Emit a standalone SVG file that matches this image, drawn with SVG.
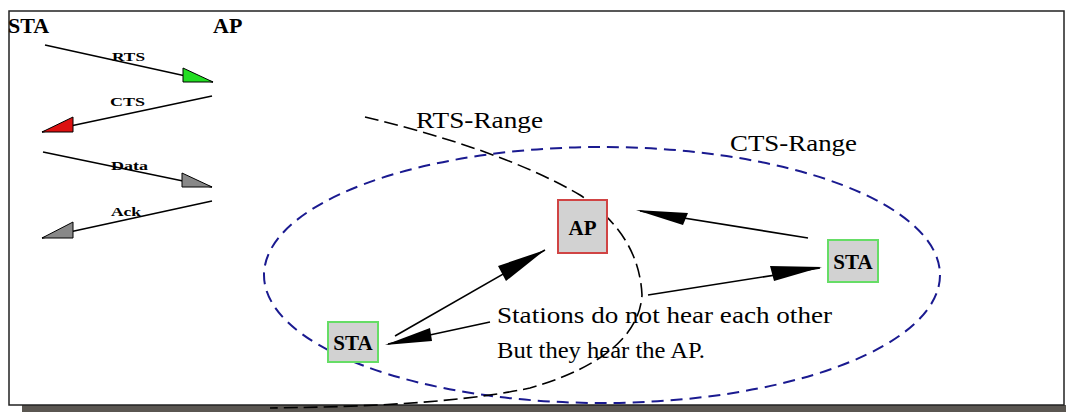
<svg xmlns="http://www.w3.org/2000/svg" width="1066" height="412" viewBox="0 0 1066 412">
<style>
.t{font-family:"Liberation Serif",serif;fill:#000}
.b{font-weight:bold}
.ln{stroke:#000;stroke-width:1.6;fill:none}
.rng{stroke:#000;stroke-width:1.6;fill:none;stroke-dasharray:14 6}
.box{fill:#d2d2d2;stroke-width:2}
.sm{font-size:13px;font-weight:bold}
</style>
<rect x="0" y="0" width="1066" height="412" fill="#fff"/>
<rect x="22" y="405" width="1044" height="7" fill="#5a5651"/>
<rect x="9" y="11" width="1055" height="394" fill="#fff" stroke="#222" stroke-width="1.5"/>

<g id="sequence">
<text class="t b" x="8" y="33" font-size="22">STA</text>
<text class="t b" x="213" y="33" font-size="22">AP</text>
<line class="ln" x1="45" y1="45" x2="213" y2="82"/>
<polygon points="183,68 183,82 213,82" fill="#22dd22" stroke="#000" stroke-width="1"/>
<text class="t sm" x="112" y="61" textLength="33" lengthAdjust="spacingAndGlyphs">RTS</text>
<line class="ln" x1="212" y1="96" x2="42" y2="132"/>
<polygon points="42,132 73,132 73,117" fill="#dd1111" stroke="#000" stroke-width="1"/>
<text class="t sm" x="110" y="106" textLength="35" lengthAdjust="spacingAndGlyphs">CTS</text>
<line class="ln" x1="43" y1="152" x2="212" y2="187"/>
<polygon points="182,173 182,187 212,187" fill="#888" stroke="#000" stroke-width="1"/>
<text class="t sm" x="111" y="170" textLength="37" lengthAdjust="spacingAndGlyphs">Data</text>
<line class="ln" x1="212" y1="201" x2="42" y2="238"/>
<polygon points="42,238 73,238 73,222" fill="#888" stroke="#000" stroke-width="1"/>
<text class="t sm" x="111" y="216" textLength="30" lengthAdjust="spacingAndGlyphs">Ack</text>
</g>

<g id="cts-range">
<ellipse cx="602" cy="275" rx="338" ry="128" fill="none" stroke="#1a1a90" stroke-width="2" stroke-dasharray="12 7"/>
<text class="t" x="730" y="151" font-size="23" textLength="127" lengthAdjust="spacingAndGlyphs">CTS-Range</text>
</g>

<g id="rts-range">
<path class="rng" d="M365,117 C440,135 520,160 580,195 C620,222 640,255 642,295 C640,330 610,365 530,388 C450,405 340,407 270,408"/>
<text class="t" x="416" y="128" font-size="23" textLength="127" lengthAdjust="spacingAndGlyphs">RTS-Range</text>
</g>

<g id="connectors">
<line class="ln" x1="395" y1="336" x2="545" y2="250"/>
<polygon points="545,250 498,266 506,281" fill="#000"/>
<line class="ln" x1="808" y1="238" x2="640" y2="211"/>
<polygon points="636,210 688,213 683,225" fill="#000"/>
<line class="ln" x1="648" y1="295" x2="820" y2="268"/>
<polygon points="822,267 770,266 774,281" fill="#000"/>
<line class="ln" x1="490" y1="322" x2="388" y2="344"/>
<polygon points="385,345 430,328 432,341" fill="#000"/>
</g>

<g id="ap">
<rect class="box" x="558" y="200" width="49" height="53" stroke="#d04444"/>
<text class="t b" x="582.5" y="235" font-size="21" text-anchor="middle">AP</text>
</g>
<g id="sta-right">
<rect class="box" x="828" y="240" width="50" height="42" stroke="#66dd66"/>
<text class="t b" x="853" y="269" font-size="21" text-anchor="middle">STA</text>
</g>
<g id="sta-left">
<rect class="box" x="328" y="322" width="50" height="40" stroke="#66dd66"/>
<text class="t b" x="353" y="350" font-size="21" text-anchor="middle">STA</text>
</g>

<g id="note">
<text class="t" x="497" y="323" font-size="24" textLength="335" lengthAdjust="spacingAndGlyphs">Stations do not hear each other</text>
<text class="t" x="497" y="358" font-size="24" textLength="208" lengthAdjust="spacingAndGlyphs">But they hear the AP.</text>
</g>
</svg>
